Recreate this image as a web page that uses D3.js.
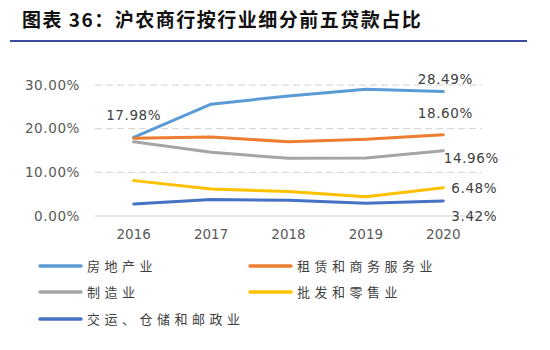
<!DOCTYPE html>
<html><head><meta charset="utf-8">
<script src="https://cdn.jsdelivr.net/npm/d3@7"></script>
<style>body{margin:0;background:#fff;} svg{display:block;}</style>
</head><body>
<svg id="c" width="550" height="350"></svg>
<script>
const years = ["2016","2017","2018","2019","2020"];
const seriesNames = ["房地产业","租赁和商务服务业","制造业","批发和零售业","交运、仓储和邮政业"];
const realEstate = [17.98, 25.6, 27.5, 29.0, 28.49];
const leasing = [17.8, 18.1, 17.0, 17.6, 18.60];
const manufacturing = [17.0, 14.6, 13.2, 13.3, 14.96];
const wholesale = [8.1, 6.2, 5.6, 4.4, 6.48];
const transport = [2.75, 3.8, 3.6, 2.9, 3.42];
const yTicks = [0, 10, 20, 30];
const colors = ["#5B9BD5","#ED7D31","#A5A5A5","#FFC000","#4472C4"];
const title = "图表 36：沪农商行按行业细分前五贷款占比";

const allSeries = [realEstate, leasing, manufacturing, wholesale, transport];
const svg = d3.select("#c");
const numFont = "'DejaVu Sans', sans-serif";
const cjkFont = "'Noto Sans CJK SC', sans-serif";

// title
svg.append("text").attr("x", 22).attr("y", 27).attr("font-family", cjkFont)
  .attr("font-weight", "bold").attr("font-size", 19).attr("letter-spacing", 1.5)
  .attr("fill", "#111").text(title);
svg.append("line").attr("x1", 10).attr("x2", 527).attr("y1", 41).attr("y2", 41)
  .attr("stroke", "#3B4A9A").attr("stroke-width", 2);

const x = d3.scalePoint().domain(years).range([95, 482]).padding(0.5);
const y = d3.scaleLinear().domain([0, 30]).range([216, 85]);

// gridlines
svg.append("g").selectAll("line").data(yTicks.filter(d => d > 0)).join("line")
  .attr("x1", 95).attr("x2", 482).attr("y1", d => y(d)).attr("y2", d => y(d))
  .attr("stroke", "#D0D0D0").attr("stroke-width", 1).attr("stroke-dasharray", "7,4");
svg.append("line").attr("x1", 95).attr("x2", 482).attr("y1", y(0)).attr("y2", y(0))
  .attr("stroke", "#D0D0D0").attr("stroke-width", 1);

// y labels
svg.append("g").selectAll("text").data(yTicks).join("text")
  .attr("x", 80).attr("y", d => y(d)).attr("dy", "0.35em").attr("text-anchor", "end")
  .attr("font-family", numFont).attr("font-size", 13.5).attr("letter-spacing", 0.6)
  .attr("fill", "#595959").text(d => d3.format(".2f")(d) + "%");

// x labels
svg.append("g").selectAll("text").data(years).join("text")
  .attr("x", d => x(d)).attr("y", 239).attr("text-anchor", "middle")
  .attr("font-family", numFont).attr("font-size", 13.5)
  .attr("fill", "#595959").text(d => d);

// lines
const line = d3.line().x((d, i) => x(years[i])).y(d => y(d)).curve(d3.curveLinear);
svg.append("g").selectAll("path").data(allSeries).join("path")
  .attr("d", d => line(d)).attr("fill", "none")
  .attr("stroke", (d, i) => colors[i]).attr("stroke-width", 3)
  .attr("stroke-linejoin", "round").attr("stroke-linecap", "round");

// data labels
const labelSpecs = [
  {s: 0, i: 0, dx: 0, dy: -22},
  {s: 0, i: 4, dx: 2, dy: -12.5},
  {s: 1, i: 4, dx: 2, dy: -22},
  {s: 2, i: 4, dx: 28, dy: 8},
  {s: 3, i: 4, dx: 31, dy: 0.5},
  {s: 4, i: 4, dx: 31, dy: 15}
];
svg.append("g").selectAll("text").data(labelSpecs).join("text")
  .attr("x", d => x(years[d.i]) + d.dx)
  .attr("y", d => y(allSeries[d.s][d.i]) + d.dy)
  .attr("dy", "0.35em").attr("text-anchor", "middle")
  .attr("font-family", numFont).attr("font-size", 13.5).attr("letter-spacing", 0.6)
  .attr("fill", "#404040").text(d => d3.format(".2f")(allSeries[d.s][d.i]) + "%");

// legend
const legendPos = [[40, 266], [250, 266], [40, 292], [250, 292], [40, 319]];
const lg = svg.append("g").selectAll("g").data(seriesNames).join("g")
  .attr("transform", (d, i) => `translate(${legendPos[i][0]},${legendPos[i][1]})`);
lg.append("line").attr("x1", 0).attr("x2", 41).attr("y1", 0).attr("y2", 0)
  .attr("stroke", (d, i) => colors[i]).attr("stroke-width", 3.5).attr("stroke-linecap", "round");
lg.append("text").attr("x", 47).attr("y", 0).attr("dy", "0.36em")
  .attr("font-family", cjkFont).attr("font-size", 13).attr("letter-spacing", 4.5)
  .attr("fill", "#404040").text(d => d);
</script>
</body></html>
